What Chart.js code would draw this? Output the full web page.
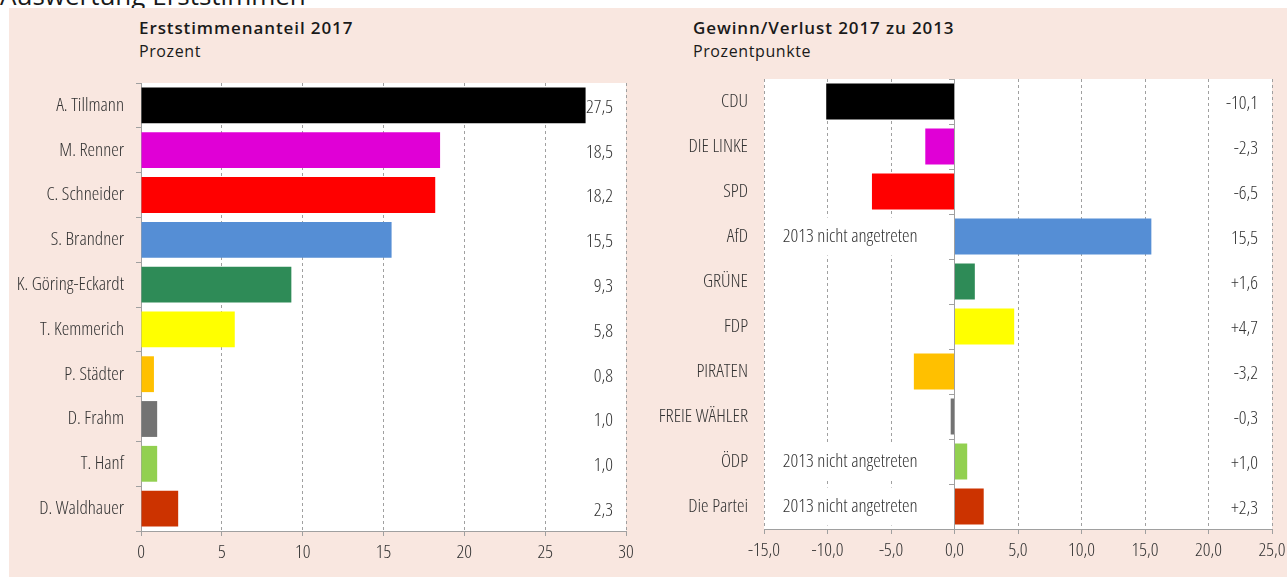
<!DOCTYPE html>
<html>
<head>
<meta charset="utf-8">
<title>Auswertung Erststimmen</title>
<script src="https://cdn.jsdelivr.net/npm/chart.js@4.4.1/dist/chart.umd.min.js"></script>
<style>
    html, body { margin: 0; padding: 0; background: #fff; }
    body { position: relative; width: 1287px; height: 577px; overflow: hidden; font-family: "Open Sans", sans-serif; color: #1a1a1a; }
    #headline { position: absolute; left: 0; top: -20px; font-size: 26px; line-height: 30px; white-space: nowrap; }
    #panel { position: absolute; left: 9px; top: 8px; width: 1278px; height: 569px; background: #f9e7e0; }
    .title { position: absolute; top: 18px; font-size: 17px; font-weight: 600; letter-spacing: 0.9px; line-height: 20px; white-space: nowrap; }
    .sub { position: absolute; top: 41px; font-size: 16px; font-weight: 500; letter-spacing: 0.6px; line-height: 20px; white-space: nowrap; }
    .box { position: absolute; top: 8px; height: 569px; }
</style>
</head>
<body>
<div id="headline">Auswertung Erststimmen</div>
<div id="panel"></div>
<div class="title" style="left:139px">Erststimmenanteil 2017</div>
<div class="sub" style="left:139px">Prozent</div>
<div class="title" style="left:693px">Gewinn/Verlust 2017 zu 2013</div>
<div class="sub" style="left:693px">Prozentpunkte</div>
<div class="box" style="left:9px;width:631px"><canvas id="shareChart"></canvas></div>
<div class="box" style="left:640px;width:647px"><canvas id="changeChart"></canvas></div>

<script>
    // left chart: share of first votes per candidate
    var candidates = ['A. Tillmann', 'M. Renner', 'C. Schneider', 'S. Brandner', 'K. Göring-Eckardt',
        'T. Kemmerich', 'P. Städter', 'D. Frahm', 'T. Hanf', 'D. Waldhauer'];
    var candidateShare = [27.5, 18.5, 18.2, 15.5, 9.3, 5.8, 0.8, 1.0, 1.0, 2.3];
    var candidateShareLabels = ['27,5', '18,5', '18,2', '15,5', '9,3', '5,8', '0,8', '1,0', '1,0', '2,3'];
    var shareTicks = ['0', '5', '10', '15', '20', '25', '30'];

    // right chart: gain/loss 2017 vs 2013
    var parties = ['CDU', 'DIE LINKE', 'SPD', 'AfD', 'GRÜNE', 'FDP', 'PIRATEN', 'FREIE WÄHLER', 'ÖDP', 'Die Partei'];
    var partyChange = [-10.1, -2.3, -6.5, 15.5, 1.6, 4.7, -3.2, -0.3, 1.0, 2.3];
    var partyChangeLabels = ['-10,1', '-2,3', '-6,5', '15,5', '+1,6', '+4,7', '-3,2', '-0,3', '+1,0', '+2,3'];
    var partyNotes = ['', '', '', '2013 nicht angetreten', '', '', '', '', '2013 nicht angetreten', '2013 nicht angetreten'];
    var changeTicks = ['-15,0', '-10,0', '-5,0', '0,0', '5,0', '10,0', '15,0', '20,0', '25,0'];

    var barColors = ['#000000', '#e000d6', '#ff0000', '#558ed5', '#2e8b57',
        '#ffff00', '#ffc000', '#737373', '#92d050', '#cc3300'];

    var textColor = '#333333';
    var lineColor = '#a0a0a0';

    // the original uses a narrow face; take the first narrow one that is really there
    function pickLabelFont() {
        var ctx = document.createElement('canvas').getContext('2d');
        var sample = 'K. Göring-Eckardt';
        function width(f) { ctx.font = f; return ctx.measureText(sample).width; }
        var choices = [
            { family: '"Liberation Sans Narrow"', weight: '' },
            { family: '"Noto Sans"', weight: 'condensed' },
            { family: '"Open Sans"', weight: 'condensed' },
            { family: '"DejaVu Sans Condensed"', weight: '' }
        ];
        for (var i = 0; i < choices.length; i++) {
            var c = choices[i];
            var ok;
            if (c.weight) {
                ok = width(c.weight + ' 16px ' + c.family) < 0.9 * width('16px ' + c.family);
            } else {
                ok = width('16px ' + c.family + ', monospace') !== width('16px monospace') &&
                    width('16px ' + c.family + ', monospace') === width('16px ' + c.family + ', serif');
            }
            if (ok) {
                var weight = c.weight ? c.weight + ' 300' : '';
                var w = width((weight ? weight + ' ' : '') + '16px ' + c.family);
                var size = Math.max(13, Math.min(19, Math.round(16 * 111 / w * 2) / 2));
                return { family: c.family + ', sans-serif', weight: weight, size: size };
            }
        }
        return { family: 'sans-serif', weight: '', size: 14 };
    }

    var labelFont = pickLabelFont();
    var labelFontString = (labelFont.weight ? labelFont.weight + ' ' : '') + labelFont.size + 'px ' + labelFont.family;

    Chart.defaults.font.family = labelFont.family;
    Chart.defaults.font.size = labelFont.size;
    if (labelFont.weight) { Chart.defaults.font.weight = labelFont.weight; }
    Chart.defaults.color = textColor;

    var plotBackground = {
        id: 'plotBackground',
        beforeDraw: function (chart) {
            var a = chart.chartArea;
            var ctx = chart.ctx;
            ctx.save();
            ctx.fillStyle = '#ffffff';
            ctx.fillRect(a.left, a.top, a.right - a.left, a.bottom - a.top);
            ctx.restore();
        }
    };

    // value labels at the right edge, plus the "not contested" notes
    var rowLabels = {
        id: 'rowLabels',
        afterDraw: function (chart, args, opts) {
            var ctx = chart.ctx;
            var a = chart.chartArea;
            var y = chart.scales.y;
            var x = chart.scales.x;
            ctx.save();
            ctx.font = labelFontString;
            ctx.textBaseline = 'middle';
            (opts.notes || []).forEach(function (note, i) {
                if (!note) { return; }
                var cy = y.getPixelForValue(i);
                var x0 = a.left + 6;
                var x1 = x.getPixelForValue(0) - 24;
                ctx.fillStyle = '#ffffff';
                ctx.fillRect(x0, cy - 19, x1 - x0, 38);
                ctx.fillStyle = textColor;
                ctx.textAlign = 'center';
                ctx.fillText(note, (x0 + x1) / 2, cy);
            });
            ctx.fillStyle = textColor;
            ctx.textAlign = 'right';
            opts.values.forEach(function (t, i) {
                ctx.fillText(t, a.right - opts.inset, y.getPixelForValue(i) + 2);
            });
            ctx.restore();
        }
    };

    function gridColor(ctx) {
        return ctx.tick && ctx.tick.value === 0 ? 'rgba(0,0,0,0)' : lineColor;
    }

    // keep the edge tick labels from squeezing the plot area
    function fitValueAxis(height) {
        return function (s) {
            s.height = height;
            s.paddingLeft = 0;
            s.paddingRight = 0;
        };
    }

    new Chart(document.getElementById('shareChart'), {
        type: 'bar',
        data: {
            labels: candidates,
            datasets: [{
                data: candidateShare,
                backgroundColor: barColors,
                borderWidth: 0,
                barPercentage: 0.8,
                categoryPercentage: 1
            }]
        },
        options: {
            indexAxis: 'y',
            responsive: true,
            maintainAspectRatio: false,
            animation: false,
            layout: { padding: { top: 75, right: 14, left: 0, bottom: 0 } },
            plugins: {
                legend: { display: false },
                tooltip: { enabled: false },
                rowLabels: { values: candidateShareLabels, inset: 13 }
            },
            scales: {
                x: {
                    type: 'linear',
                    min: 0,
                    max: 30,
                    ticks: {
                        stepSize: 5,
                        padding: 5,
                        callback: function (value, index) { return shareTicks[index]; }
                    },
                    grid: { color: gridColor, tickColor: lineColor, tickLength: 5 },
                    border: { color: lineColor, dash: [3, 3] },
                    afterFit: fitValueAxis(46)
                },
                y: {
                    offset: true,
                    ticks: { padding: 12 },
                    grid: { drawOnChartArea: false, offset: true, tickLength: 5, color: lineColor },
                    border: { color: lineColor },
                    afterFit: function (s) { s.width = 132; }
                }
            }
        },
        plugins: [plotBackground, rowLabels]
    });

    new Chart(document.getElementById('changeChart'), {
        type: 'bar',
        data: {
            labels: parties,
            datasets: [{
                data: partyChange,
                backgroundColor: barColors,
                borderWidth: 0,
                barPercentage: 0.8,
                categoryPercentage: 1,
                xAxisID: 'x',
                yAxisID: 'y'
            }]
        },
        options: {
            indexAxis: 'y',
            responsive: true,
            maintainAspectRatio: false,
            animation: false,
            layout: { padding: { top: 71, right: 15, left: 0, bottom: 0 } },
            plugins: {
                legend: { display: false },
                tooltip: { enabled: false },
                rowLabels: { values: partyChangeLabels, notes: partyNotes, inset: 14 }
            },
            scales: {
                x: {
                    type: 'linear',
                    min: -15,
                    max: 25,
                    ticks: {
                        stepSize: 5,
                        padding: 5,
                        callback: function (value, index) { return changeTicks[index]; }
                    },
                    grid: { color: gridColor, tickColor: lineColor, tickLength: 5 },
                    border: { color: lineColor, dash: [3, 3] },
                    afterFit: fitValueAxis(48)
                },
                y: {
                    type: 'category',
                    position: { x: 0 },
                    offset: true,
                    ticks: { display: false },
                    grid: { drawOnChartArea: false, offset: true, tickLength: 5, color: lineColor },
                    border: { color: lineColor }
                },
                yl: {
                    type: 'category',
                    position: 'left',
                    offset: true,
                    ticks: { padding: 16 },
                    grid: { display: false, drawTicks: false },
                    border: { display: false },
                    afterFit: function (s) { s.width = 124; }
                }
            }
        },
        plugins: [plotBackground, rowLabels]
    });
</script>
</body>
</html>
